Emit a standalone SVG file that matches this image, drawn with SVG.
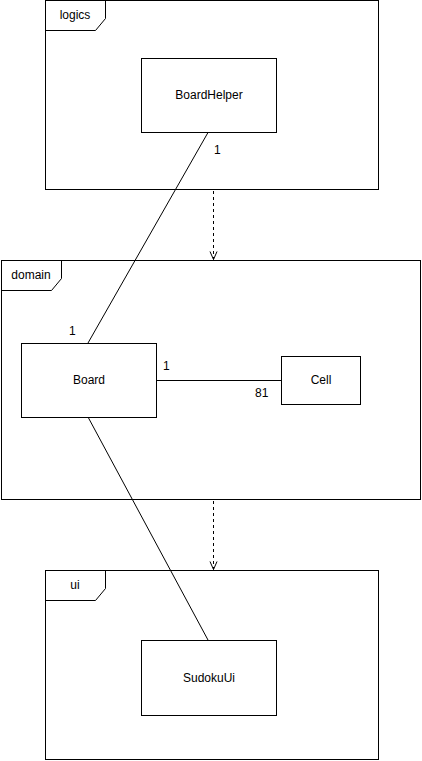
<svg xmlns="http://www.w3.org/2000/svg" width="422" height="761" viewBox="0 0 422 761">
<defs>
<style>
.frame{fill:#fff;stroke:#000;stroke-width:1}
.box{fill:#fff;stroke:#000;stroke-width:1}
.t{font-family:"Liberation Sans",Arial,sans-serif;font-size:12px;fill:#000}
.c{text-anchor:middle}
.ln{stroke:#000;stroke-width:1;fill:none}
.dep{stroke:#000;stroke-width:1;fill:none;stroke-dasharray:3,3}
</style>
<marker id="open" markerWidth="10" markerHeight="10" refX="9" refY="5" orient="auto" markerUnits="userSpaceOnUse" viewBox="0 0 10 10">
<path d="M1,1.5 L9,5 L1,8.5" fill="none" stroke="#000" stroke-width="1"/>
</marker>
</defs>
<rect width="422" height="761" fill="#fff"/>
<g id="logics">
<rect class="frame" x="45.5" y="0.5" width="333" height="189"/>
<path class="ln" d="M45.5,30.5 H95.5 L105.5,18.5 V0.5"/>
<text class="t c" x="75" y="19">logics</text>
</g>
<g id="domain">
<rect class="frame" x="1.5" y="260.5" width="419" height="239"/>
<path class="ln" d="M1.5,290.5 H51.5 L61.5,278.5 V260.5"/>
<text class="t c" x="31" y="279">domain</text>
</g>
<g id="ui">
<rect class="frame" x="45.5" y="570.5" width="333" height="189"/>
<path class="ln" d="M45.5,600.5 H95.5 L105.5,588.5 V570.5"/>
<text class="t c" x="75" y="589">ui</text>
</g>
<g id="connectors">
<line class="ln" x1="208" y1="132.5" x2="88" y2="343"/>
<line class="ln" x1="88" y1="417" x2="208" y2="640"/>
<line class="ln" x1="156" y1="380.5" x2="281" y2="380.5"/>
<line class="dep" x1="213.5" y1="191" x2="213.5" y2="259.5" marker-end="url(#open)"/>
<line class="dep" x1="213.5" y1="501" x2="213.5" y2="569.5" marker-end="url(#open)"/>
<text class="t" x="214" y="154">1</text>
<text class="t" x="69" y="335">1</text>
<text class="t" x="163" y="370">1</text>
<text class="t" x="255" y="397">81</text>
</g>
<g id="BoardHelper">
<rect class="box" x="141.5" y="58.5" width="135" height="74"/>
<text class="t c" x="209" y="99">BoardHelper</text>
</g>
<g id="Board">
<rect class="box" x="21.5" y="343.5" width="135" height="74"/>
<text class="t c" x="89" y="384">Board</text>
</g>
<g id="Cell">
<rect class="box" x="281.5" y="356.5" width="79" height="48"/>
<text class="t c" x="321" y="384">Cell</text>
</g>
<g id="SudokuUi">
<rect class="box" x="141.5" y="640.5" width="135" height="75"/>
<text class="t c" x="209" y="682">SudokuUi</text>
</g>
</svg>
